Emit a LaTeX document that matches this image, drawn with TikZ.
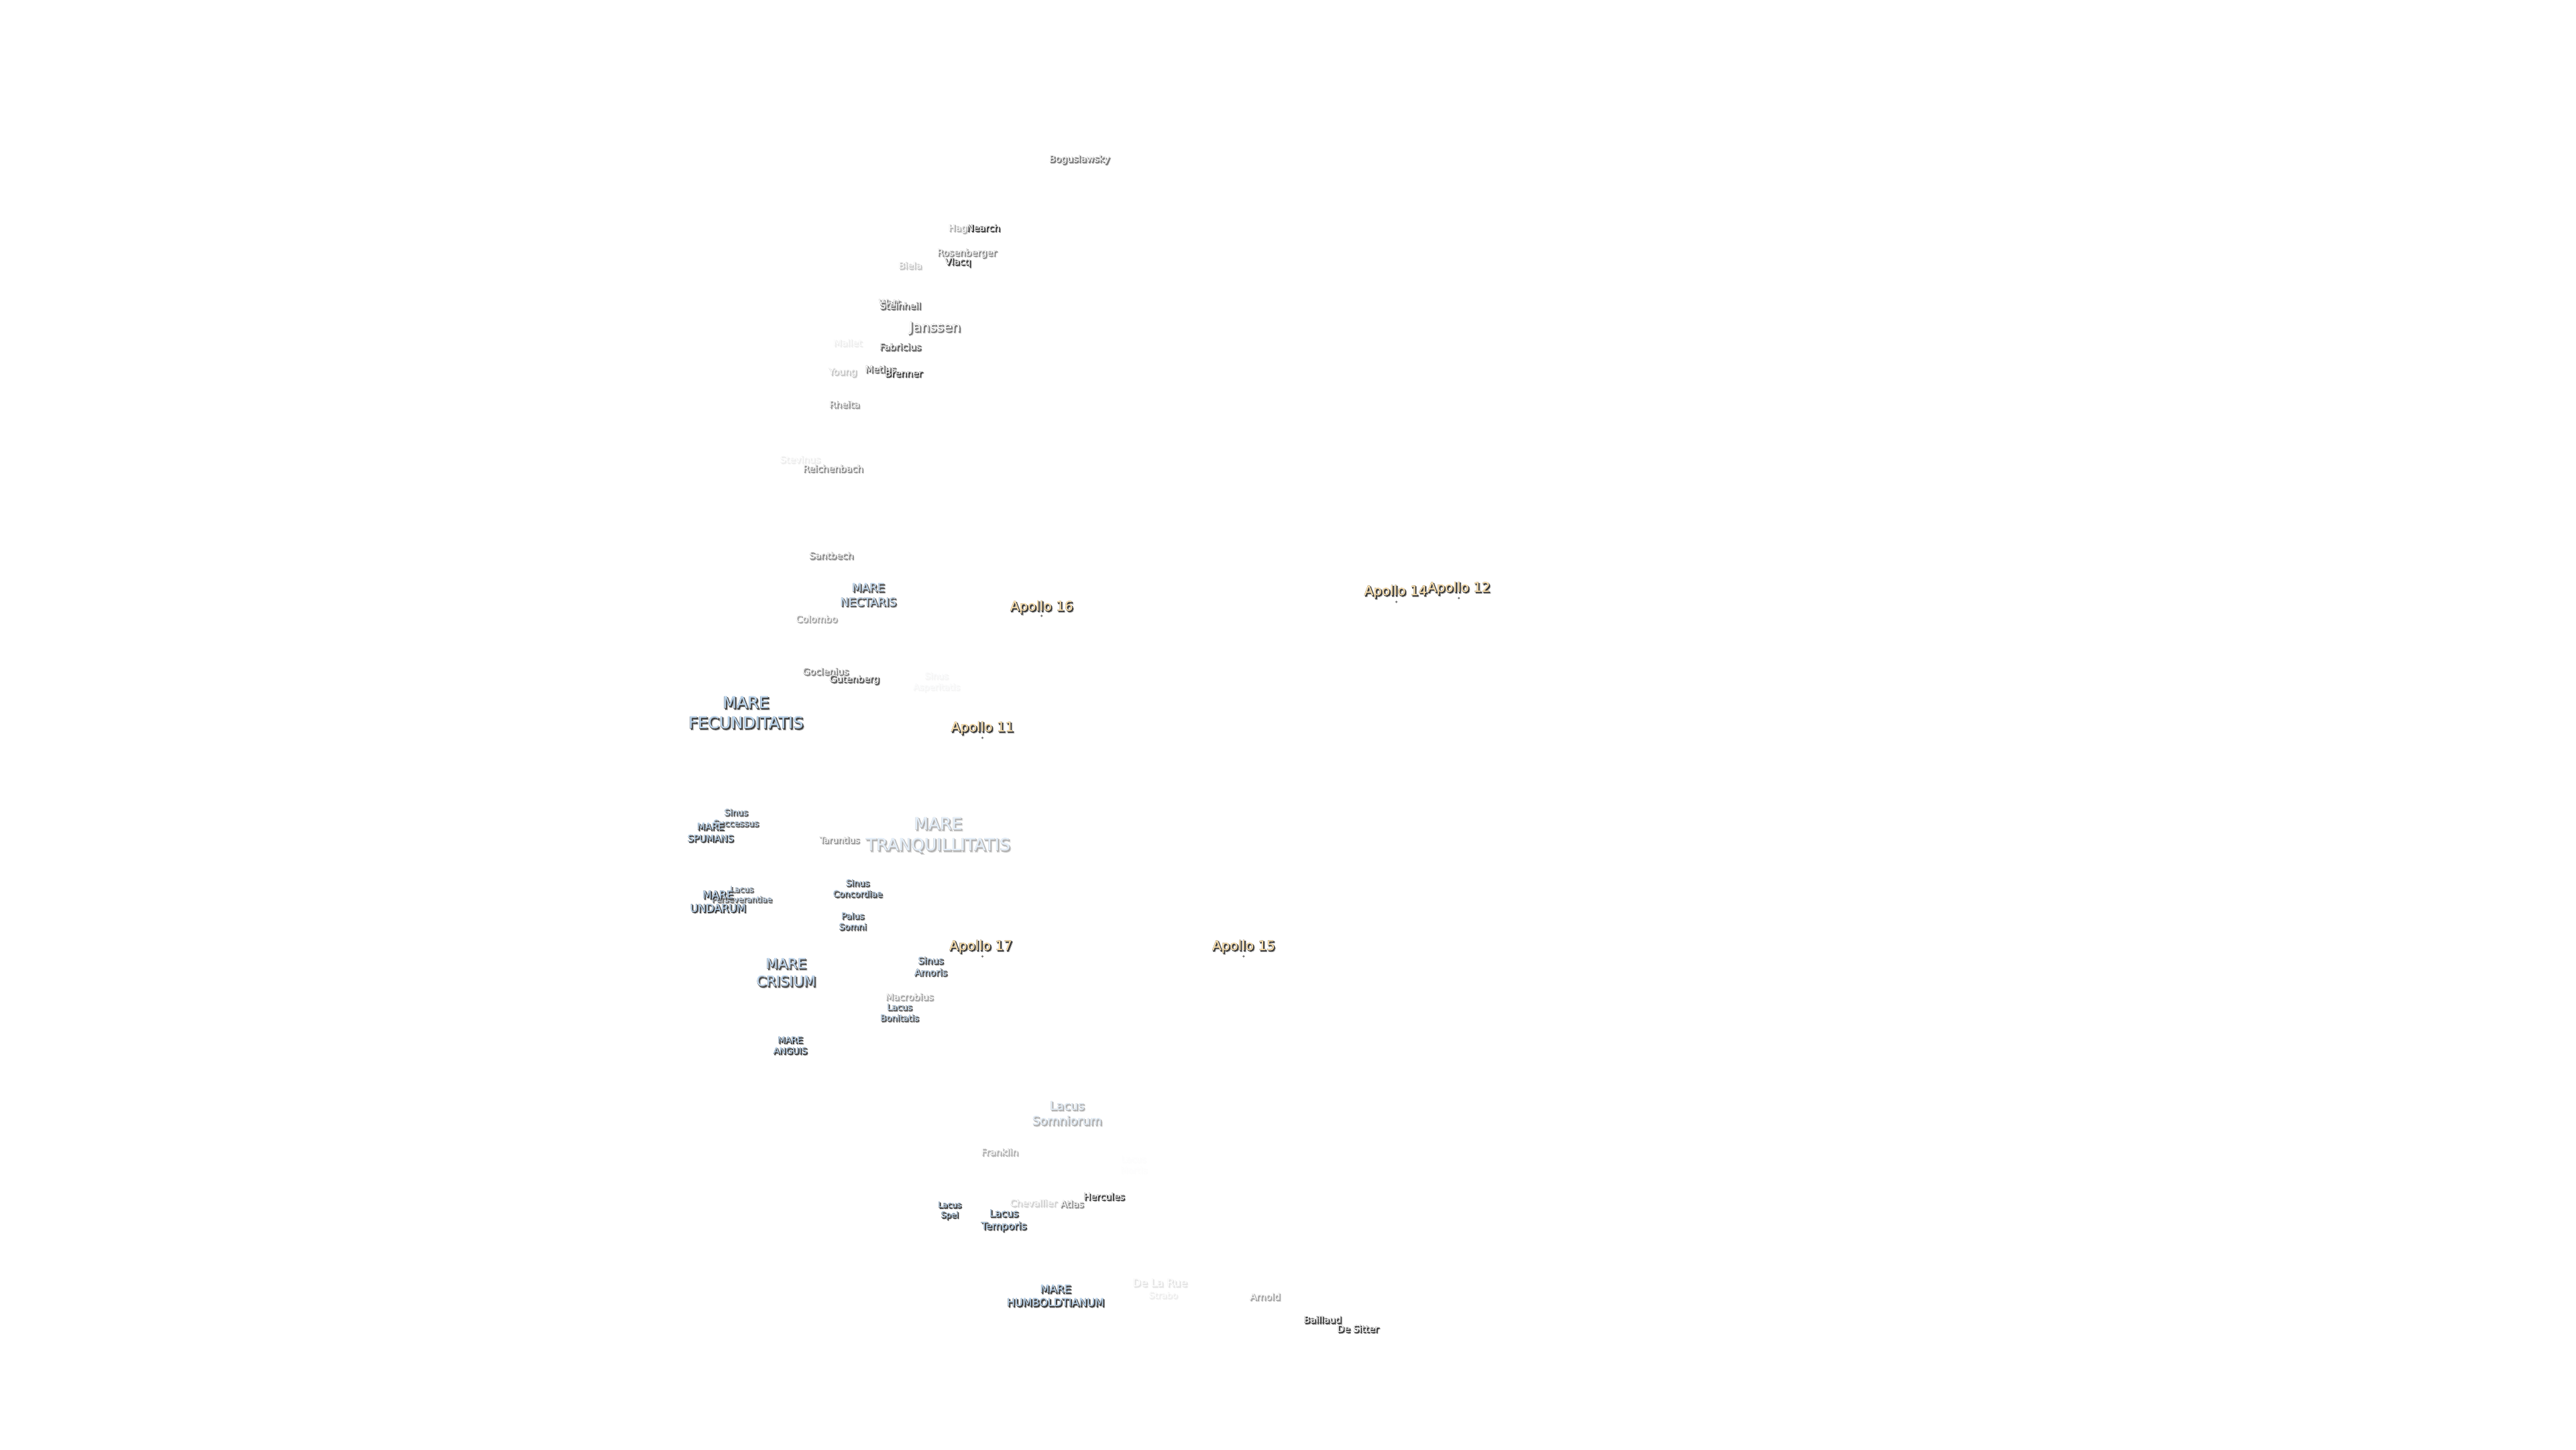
\documentclass[tikz,border=0pt]{standalone}
\usepackage{fontspec}
\setmainfont{DejaVu Sans}
\usetikzlibrary{positioning}

\definecolor{halogray}{HTML}{303030}
\definecolor{edgegray}{HTML}{767676}
\definecolor{shadegray}{HTML}{ABABAB}
\definecolor{maretext}{HTML}{BBD7F2}
\definecolor{apollotext}{HTML}{FFE2AC}

% one label: soft shadow, dark edge, thin rim, then fill, stacked in a single node
\newbox\softbox
\newbox\rimbox
\newcommand{\lbltext}[3]{%
  \edef\lblop{\fpeval{min(100,round(1.15*#2))}}%
  \setbox\softbox=\hbox{\addfontfeature{FakeBold=7}\begin{tabular}{@{}c@{}}#3\end{tabular}}%
  \setbox\rimbox=\hbox{\addfontfeature{FakeBold=2.4}\begin{tabular}{@{}c@{}}#3\end{tabular}}%
  \rlap{\kern.2mm\raisebox{-.2mm}{\color{shadegray!\lblop!white}\copy\softbox}}%
  \rlap{\kern.14mm\raisebox{-.14mm}{\color{halogray!\lblop!white}\copy\rimbox}}%
  \rlap{\color{edgegray!\lblop!white}\copy\rimbox}%
  {\color{#1!\lblop!white}\begin{tabular}{@{}c@{}}#3\end{tabular}}}
\newcommand{\crater}[2]{\lbltext{white}{#1}{#2}}
\newcommand{\mare}[2]{\lbltext{maretext}{#1}{#2}}
\newcommand{\apollo}[1]{\lbltext{apollotext}{100}{#1}}

\tikzset{
  lbl/.style={inner sep=0pt, align=center, yshift=-0.015cm},
  sz/.style={font=\fontsize{\fpeval{#1*0.2845}}{\fpeval{#1*0.2845*1.25}}\selectfont},
  site/.style={circle, fill=edgegray, inner sep=0pt, minimum size=0.035cm},
}

\begin{document}
\begin{tikzpicture}[x=0.02449cm, y=-0.02449cm]
\useasboundingbox (0,0) rectangle (1568,882);

% Craters, north part
\node[lbl, sz=14] (boguslawsky) at (657,97) {\crater{60}{Boguslawsky}};
\node[lbl, sz=14] (hag) at (583,139) {\crater{35}{Hag}};
\node[lbl, sz=14] (nearch) at (598.5,139) {\crater{90}{Nearch}};
\node[lbl, sz=14] (rosenberger) at (588.5,154) {\crater{50}{Rosenberger}};
\node[lbl, sz=14] (vlacq) at (583,159.5) {\crater{85}{Vlacq}};
\node[lbl, sz=14] (biela) at (554,162) {\crater{25}{Biela}};
\node[lbl, sz=14] (watt) at (541.5,184.5) {\crater{55}{Watt}};
\node[lbl, sz=14] (steinheil) at (548,186.5) {\crater{65}{Steinheil}};
\node[lbl, sz=20] (janssen) at (569,199.5) {\crater{60}{Janssen}};
\node[lbl, sz=14] (mallet) at (516,209) {\crater{8}{Mallet}};
\node[lbl, sz=14] (fabricius) at (548,211.5) {\crater{70}{Fabricius}};
\node[lbl, sz=14] (young) at (513,226.5) {\crater{25}{Young}};
\node[lbl, sz=14] (metius) at (536,225) {\crater{70}{Metius}};
\node[lbl, sz=14] (brenner) at (550,227.5) {\crater{85}{Brenner}};
\node[lbl, sz=14] (rheita) at (514,246.5) {\crater{45}{Rheita}};
\node[lbl, sz=14] (stevinus) at (487,280) {\crater{8}{Stevinus}};
\node[lbl, sz=14] (reichenbach) at (507,285.5) {\crater{50}{Reichenbach}};
\node[lbl, sz=14] (santbech) at (506,338.5) {\crater{50}{Santbech}};
\node[lbl, sz=14] (colombo) at (497,377) {\crater{40}{Colombo}};
\node[lbl, sz=14] (goclenius) at (502.5,409) {\crater{55}{Goclenius}};
\node[lbl, sz=14] (gutenberg) at (520,413.5) {\crater{75}{Gutenberg}};
\node[lbl, sz=13] (taruntius) at (511,511.5) {\crater{45}{Taruntius}};
\node[lbl, sz=14] (macrobius) at (553.5,607) {\crater{40}{Macrobius}};

% Craters, south part
\node[lbl, sz=14] (franklin) at (608.5,701.5) {\crater{35}{Franklin}};
\node[lbl, sz=14] (chevallier) at (629,732.5) {\crater{20}{Chevallier}};
\node[lbl, sz=14] (atlas) at (652.5,733) {\crater{50}{Atlas}};
\node[lbl, sz=14] (hercules) at (672,728.5) {\crater{85}{Hercules}};
\node[lbl, sz=16] (delarue) at (706,781) {\crater{12}{De La Rue}};
\node[lbl, sz=13] (strabo) at (708,788.5) {\crater{8}{Strabo}};
\node[lbl, sz=14] (arnold) at (770,789.5) {\crater{40}{Arnold}};
\node[lbl, sz=14] (baillaud) at (805,803.5) {\crater{85}{Baillaud}};
\node[lbl, sz=14] (desitter) at (826.5,809) {\crater{95}{De Sitter}};

% Maria, lakes, bays
\node[lbl, sz=17] (nectaris) at (528.5,362.5) {\mare{75}{MARE\\NECTARIS}};
\node[lbl, sz=13] (asperitatis) at (570,415) {\mare{4}{Sinus\\Asperitatis}};
\node[lbl, sz=24] (fecunditatis) at (454,434.5) {\mare{85}{MARE\\FECUNDITATIS}};
\node[lbl, sz=13] (successus) at (448,498) {\mare{75}{Sinus\\Successus}};
\node[lbl, sz=14] (spumans) at (432.5,507) {\mare{85}{MARE\\SPUMANS}};
\node[lbl, sz=25] (tranquillitatis) at (571,508.5) {\mare{35}{MARE\\TRANQUILLITATIS}};
\node[lbl, sz=13] (concordiae) at (522,541) {\mare{80}{Sinus\\Concordiae}};
\node[lbl, sz=12] (perseverantiae) at (451.5,544.5) {\mare{70}{Lacus\\Perseverantiae}};
\node[lbl, sz=16] (undarum) at (437,549) {\mare{90}{MARE\\UNDARUM}};
\node[lbl, sz=13] (somni) at (519,561) {\mare{80}{Palus\\Somni}};
\node[lbl, sz=21] (crisium) at (478.5,592.5) {\mare{80}{MARE\\CRISIUM}};
\node[lbl, sz=14] (amoris) at (566.5,588.5) {\mare{80}{Sinus\\Amoris}};
\node[lbl, sz=13] (bonitatis) at (547.5,616.5) {\mare{75}{Lacus\\Bonitatis}};
\node[lbl, sz=13] (anguis) at (481,636.5) {\mare{90}{MARE\\ANGUIS}};
\node[lbl, sz=18] (somniorum) at (649.5,678) {\mare{35}{Lacus\\Somniorum}};
\node[lbl, sz=13] (mortis) at (690,709) {\mare{1}{Lacus\\Mortis}};
\node[lbl, sz=12] (spei) at (578,736.5) {\mare{90}{Lacus\\Spei}};
\node[lbl, sz=15] (temporis) at (611,742.5) {\mare{85}{Lacus\\Temporis}};
\node[lbl, sz=16] (humboldtianum) at (642.5,789) {\mare{90}{MARE\\HUMBOLDTIANUM}};

% Landing sites
\node[site] (site16) at (634,374.8) {};
\node[site] (site14) at (850,366.3) {};
\node[site] (site12) at (888,364) {};
\node[site] (site11) at (598,449) {};
\node[site] (site17) at (598,582) {};
\node[site] (site15) at (757,582) {};
\node[lbl, sz=20] (apollo16) at (634,369.5) {\apollo{Apollo 16}};
\node[lbl, sz=20] (apollo14) at (849.5,360) {\apollo{Apollo 14}};
\node[lbl, sz=20] (apollo12) at (888,358) {\apollo{Apollo 12}};
\node[lbl, sz=20] (apollo11) at (598,443) {\apollo{Apollo 11}};
\node[lbl, sz=20] (apollo17) at (597,576) {\apollo{Apollo 17}};
\node[lbl, sz=20] (apollo15) at (757,576) {\apollo{Apollo 15}};

\end{tikzpicture}
\end{document}
